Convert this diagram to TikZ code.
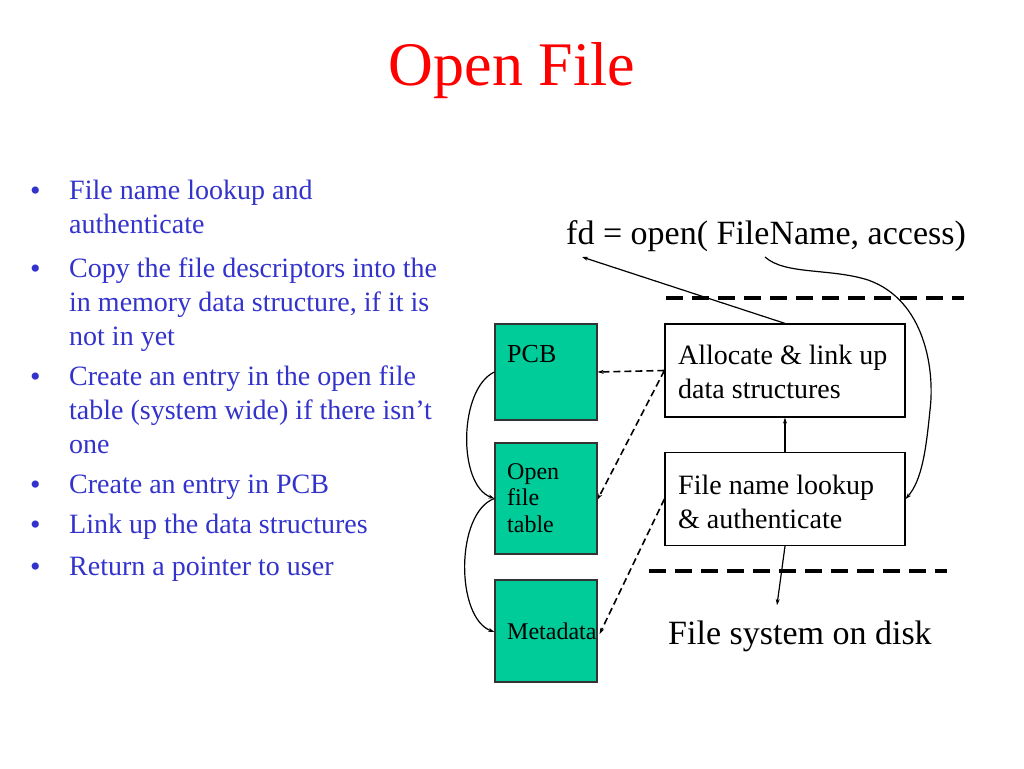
\documentclass[tikz,border=0pt]{standalone}
\usepackage{fontspec}
\setmainfont{Liberation Serif}
\usetikzlibrary{arrows.meta}
\definecolor{bluetext}{RGB}{51,51,204}
\definecolor{boxgreen}{RGB}{0,204,153}
\begin{document}
\begin{tikzpicture}[x=1pt,y=-1pt,
  gbox/.style={draw=black!80, line width=1.2pt, fill=boxgreen, minimum width=102pt, inner sep=0pt},
  wbox/.style={draw=black, line width=1.2pt, fill=white, minimum width=240pt, minimum height=93pt, inner sep=0pt},
  wtext/.style={anchor=base west, inner sep=0pt, align=left, font=\fontsize{28}{34}\selectfont},
  btext/.style={text=bluetext, font=\fontsize{28}{34}\selectfont, anchor=base west, inner sep=0pt, align=left},
  bdot/.style={text=bluetext, font=\fontsize{30}{32}\selectfont, anchor=base west, inner sep=0pt},
  gtext/.style={anchor=base west, inner sep=0pt, align=left, font=\fontsize{24}{26.5}\selectfont},
  sep/.style={line width=3.5pt, dash pattern=on 17pt off 9pt},
  conn/.style={line width=1.2pt, -{Stealth[length=6pt,width=4pt]}},
  dconn/.style={line width=1.6pt, dash pattern=on 7pt off 4pt, -{Stealth[length=6pt,width=4pt]}}]
\useasboundingbox[fill=white] (0,0) rectangle (1024,768);

% title
\node[text=red, font=\fontsize{62}{68}\selectfont, anchor=base, inner sep=0pt] (title) at (512,85) {Open File};

% bullets (anchor = baseline of last line)
\node[bdot] (d1) at (30,200) {•};
\node[btext] (b1) at (69,233) {File name lookup and\\authenticate};
\node[bdot] (d2) at (30,278) {•};
\node[btext] (b2) at (69,345) {Copy the file descriptors into the\\in memory data structure, if it is\\not in yet};
\node[bdot] (d3) at (30,386) {•};
\node[btext] (b3) at (69,453) {Create an entry in the open file\\table (system wide) if there isn’t\\one};
\node[bdot] (d4) at (30,494) {•};
\node[btext] (b4) at (69,493) {Create an entry in PCB};
\node[bdot] (d5) at (30,534) {•};
\node[btext] (b5) at (69,533) {Link up the data structures};
\node[bdot] (d6) at (30,576) {•};
\node[btext] (b6) at (69,575) {Return a pointer to user};

% fd line
\node[font=\fontsize{34}{38}\selectfont, anchor=base west, inner sep=0pt] (fd) at (566,244) {fd = open( FileName, access)};
\coordinate (fdret) at (582,257);
\coordinate (fdarg) at (765,257);

% separators
\coordinate (s1a) at (666,298); \coordinate (s1b) at (964,298);
\coordinate (s2a) at (649,571); \coordinate (s2b) at (947,571);
\draw[sep] (s1a) -- (s1b);
\draw[sep] (s2a) -- (s2b);

% green boxes
\node[gbox, minimum height=96pt] (pcb) at (546,372) {};
\node[gtext, font=\fontsize{26}{28}\selectfont] (pcbt) at (507,362) {PCB};
\node[gbox, minimum height=111pt] (oft) at (546,498.5) {};
\node[gtext] (ooft) at (507,532) {Open\\file\\table};
\node[gbox, minimum height=102pt] (meta) at (546,631) {};
\node[gtext] (metat) at (507,639) {Metadata};

% white boxes
\node[wbox] (alloc) at (785,370.5) {};
\node[wtext] (alloct) at (678,398) {Allocate \& link up\\data structures};
\node[wbox] (look) at (785,499) {};
\node[wtext] (lookt) at (678,528) {File name lookup\\\& authenticate};

% disk
\node[font=\fontsize{34}{38}\selectfont, anchor=base west, inner sep=0pt] (disk) at (668,644) {File system on disk};
\coordinate (diskin) at (777,605);

% connectors
\draw[conn] (alloc.north) -- (fdret);
\draw[conn] (fdarg) .. controls (785,275) and (830,268) .. (868,280)
  .. controls (925,300) and (935,370) .. (930,410)
  .. controls (926,450) and (922,480) .. (look.east);
\draw[conn] (look.north) -- (alloc.south);
\draw[conn] (look.south) -- (diskin);

\draw[dconn] (alloc.west) -- (pcb.east);
\draw[dconn] (alloc.west) -- ([yshift=-1pt]oft.east);
\draw[dconn] (look.west) -- ([xshift=2pt,yshift=-3pt]meta.east);

\draw[conn] (pcb.west) to[out=205, in=160, looseness=0.8] (oft.west);
\draw[conn] (oft.west) to[out=200, in=160, looseness=0.8] ([yshift=-1pt]meta.west);
\end{tikzpicture}
\end{document}
